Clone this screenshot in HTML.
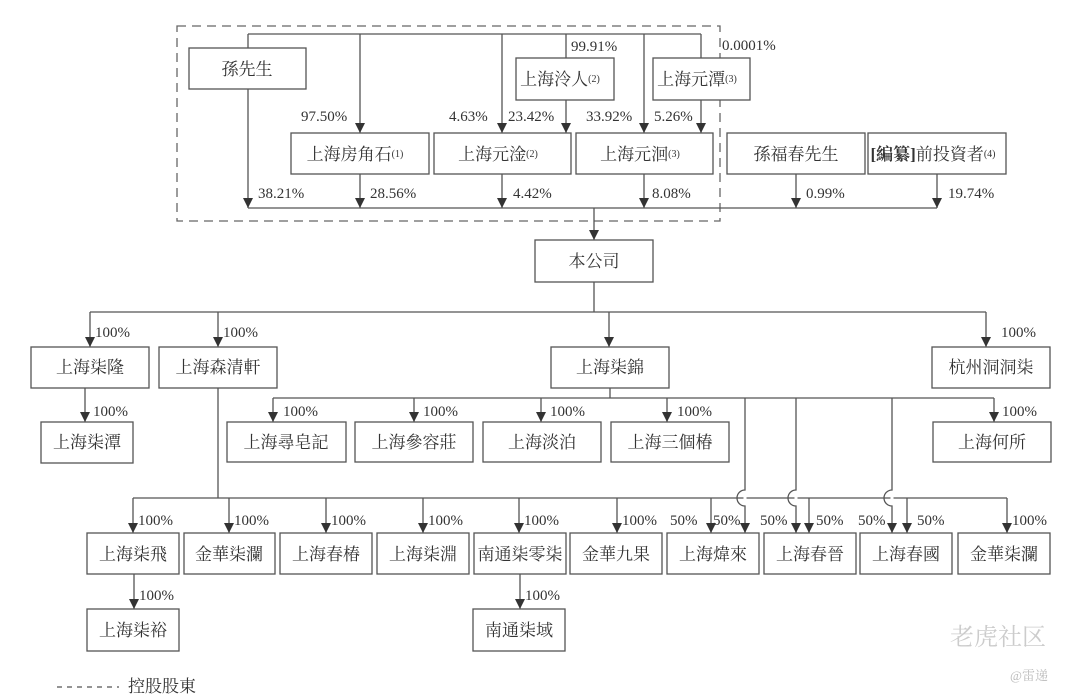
<!DOCTYPE html>
<html><head><meta charset="utf-8"><style>
html,body{margin:0;padding:0;background:#fff;}
svg{display:block;}
text{font-family:"Liberation Serif","Noto Serif CJK SC",serif;fill:#333;}
.b{font-size:17px;text-anchor:middle;}
.p{font-size:15px;}
rect{fill:#fff;stroke:#555;stroke-width:1.3;}
line,path.l{stroke:#555;stroke-width:1.3;fill:none;}
</style></head><body>
<svg width="1080" height="700" viewBox="0 0 1080 700" xmlns="http://www.w3.org/2000/svg">
<defs><marker id="a" markerWidth="10" markerHeight="10" refX="10" refY="5" orient="auto" markerUnits="userSpaceOnUse" viewBox="0 0 10 10"><path d="M0,0 L10,5 L0,10 z" fill="#333"/></marker></defs>
<rect x="177" y="26" width="543" height="195" style="fill:none;stroke:#666;stroke-dasharray:9,6;stroke-width:1.3"/>
<line x1="248" y1="34" x2="701" y2="34"/>
<line x1="248" y1="34" x2="248" y2="48"/>
<line x1="248" y1="89" x2="248" y2="208" marker-end="url(#a)"/>
<line x1="360" y1="34" x2="360" y2="133" marker-end="url(#a)"/>
<line x1="502" y1="34" x2="502" y2="133" marker-end="url(#a)"/>
<line x1="566" y1="34" x2="566" y2="58"/>
<line x1="566" y1="100" x2="566" y2="133" marker-end="url(#a)"/>
<line x1="644" y1="34" x2="644" y2="133" marker-end="url(#a)"/>
<line x1="701" y1="34" x2="701" y2="58"/>
<line x1="701" y1="100" x2="701" y2="133" marker-end="url(#a)"/>
<rect x="189" y="48" width="117" height="41"/><text class="b" x="247" y="75">孫先生</text>
<rect x="516" y="58" width="98" height="42"/><text class="b" x="560" y="85">上海泠人<tspan font-size="10" dy="-3">(2)</tspan></text>
<rect x="653" y="58" width="97" height="42"/><text class="b" x="697" y="85">上海元潭<tspan font-size="10" dy="-3">(3)</tspan></text>
<text class="p" x="571" y="51">99.91%</text>
<text class="p" x="722" y="50">0.0001%</text>
<text class="p" x="301" y="121">97.50%</text>
<text class="p" x="449" y="121">4.63%</text>
<text class="p" x="508" y="121">23.42%</text>
<text class="p" x="586" y="121">33.92%</text>
<text class="p" x="654" y="121">5.26%</text>
<rect x="291" y="133" width="138" height="41"/><text class="b" x="355" y="160">上海房角石<tspan font-size="10" dy="-3">(1)</tspan></text>
<rect x="434" y="133" width="137" height="41"/><text class="b" x="498" y="160">上海元淦<tspan font-size="10" dy="-3">(2)</tspan></text>
<rect x="576" y="133" width="137" height="41"/><text class="b" x="640" y="160">上海元洄<tspan font-size="10" dy="-3">(3)</tspan></text>
<rect x="727" y="133" width="138" height="41"/><text class="b" x="796" y="160">孫福春先生</text>
<rect x="868" y="133" width="138" height="41"/><text class="b" x="933" y="160"><tspan font-weight="bold">[編纂]</tspan>前投資者<tspan font-size="10" dy="-3">(4)</tspan></text>
<line x1="248" y1="208" x2="937" y2="208"/>
<line x1="360" y1="174" x2="360" y2="208" marker-end="url(#a)"/>
<line x1="502" y1="174" x2="502" y2="208" marker-end="url(#a)"/>
<line x1="644" y1="174" x2="644" y2="208" marker-end="url(#a)"/>
<line x1="796" y1="174" x2="796" y2="208" marker-end="url(#a)"/>
<line x1="937" y1="174" x2="937" y2="208" marker-end="url(#a)"/>
<text class="p" x="258" y="198">38.21%</text>
<text class="p" x="370" y="198">28.56%</text>
<text class="p" x="513" y="198">4.42%</text>
<text class="p" x="652" y="198">8.08%</text>
<text class="p" x="806" y="198">0.99%</text>
<text class="p" x="948" y="198">19.74%</text>
<line x1="594" y1="208" x2="594" y2="240" marker-end="url(#a)"/>
<rect x="535" y="240" width="118" height="42"/><text class="b" x="594" y="267">本公司</text>
<line x1="594" y1="282" x2="594" y2="312"/>
<line x1="90" y1="312" x2="986" y2="312"/>
<line x1="90" y1="312" x2="90" y2="347" marker-end="url(#a)"/>
<line x1="218" y1="312" x2="218" y2="347" marker-end="url(#a)"/>
<line x1="609" y1="312" x2="609" y2="347" marker-end="url(#a)"/>
<line x1="986" y1="312" x2="986" y2="347" marker-end="url(#a)"/>
<text class="p" x="95" y="337">100%</text>
<text class="p" x="223" y="337">100%</text>
<text class="p" x="1001" y="337">100%</text>
<rect x="31" y="347" width="118" height="41"/><text class="b" x="90" y="373">上海柒隆</text>
<rect x="159" y="347" width="118" height="41"/><text class="b" x="218" y="373">上海森清軒</text>
<rect x="551" y="347" width="118" height="41"/><text class="b" x="610" y="373">上海柒錦</text>
<rect x="932" y="347" width="118" height="41"/><text class="b" x="991" y="373">杭州洞洞柒</text>
<line x1="85" y1="388" x2="85" y2="422" marker-end="url(#a)"/>
<text class="p" x="93" y="416">100%</text>
<rect x="41" y="422" width="92" height="41"/><text class="b" x="87" y="448">上海柒潭</text>
<line x1="610" y1="388" x2="610" y2="398"/>
<line x1="273" y1="398" x2="994" y2="398"/>
<line x1="273" y1="398" x2="273" y2="422" marker-end="url(#a)"/>
<line x1="414" y1="398" x2="414" y2="422" marker-end="url(#a)"/>
<line x1="541" y1="398" x2="541" y2="422" marker-end="url(#a)"/>
<line x1="667" y1="398" x2="667" y2="422" marker-end="url(#a)"/>
<line x1="994" y1="398" x2="994" y2="422" marker-end="url(#a)"/>
<text class="p" x="283" y="416">100%</text>
<text class="p" x="423" y="416">100%</text>
<text class="p" x="550" y="416">100%</text>
<text class="p" x="677" y="416">100%</text>
<text class="p" x="1002" y="416">100%</text>
<rect x="227" y="422" width="119" height="40"/><text class="b" x="286" y="448">上海尋皂記</text>
<rect x="355" y="422" width="118" height="40"/><text class="b" x="414" y="448">上海參容莊</text>
<rect x="483" y="422" width="118" height="40"/><text class="b" x="542" y="448">上海淡泊</text>
<rect x="611" y="422" width="118" height="40"/><text class="b" x="670" y="448">上海三個椿</text>
<rect x="933" y="422" width="118" height="40"/><text class="b" x="992" y="448">上海何所</text>
<line x1="218" y1="388" x2="218" y2="498"/>
<line x1="133" y1="498" x2="1007" y2="498"/>
<path class="l" style="stroke:#fff;stroke-width:3" d="M745,492 V504 M796,492 V504 M892,492 V504"/>
<path class="l" d="M745,398 V490 a8,8 0 0 0 0,16 V533" marker-end="url(#a)"/>
<path class="l" d="M796,398 V490 a8,8 0 0 0 0,16 V533" marker-end="url(#a)"/>
<path class="l" d="M892,398 V490 a8,8 0 0 0 0,16 V533" marker-end="url(#a)"/>
<line x1="133" y1="498" x2="133" y2="533" marker-end="url(#a)"/>
<line x1="229" y1="498" x2="229" y2="533" marker-end="url(#a)"/>
<line x1="326" y1="498" x2="326" y2="533" marker-end="url(#a)"/>
<line x1="423" y1="498" x2="423" y2="533" marker-end="url(#a)"/>
<line x1="519" y1="498" x2="519" y2="533" marker-end="url(#a)"/>
<line x1="617" y1="498" x2="617" y2="533" marker-end="url(#a)"/>
<line x1="711" y1="498" x2="711" y2="533" marker-end="url(#a)"/>
<line x1="809" y1="498" x2="809" y2="533" marker-end="url(#a)"/>
<line x1="907" y1="498" x2="907" y2="533" marker-end="url(#a)"/>
<line x1="1007" y1="498" x2="1007" y2="533" marker-end="url(#a)"/>
<text class="p" x="138" y="525">100%</text>
<text class="p" x="234" y="525">100%</text>
<text class="p" x="331" y="525">100%</text>
<text class="p" x="428" y="525">100%</text>
<text class="p" x="524" y="525">100%</text>
<text class="p" x="622" y="525">100%</text>
<text class="p" x="670" y="525">50%</text>
<text class="p" x="713" y="525">50%</text>
<text class="p" x="760" y="525">50%</text>
<text class="p" x="816" y="525">50%</text>
<text class="p" x="858" y="525">50%</text>
<text class="p" x="917" y="525">50%</text>
<text class="p" x="1012" y="525">100%</text>
<rect x="87" y="533" width="92" height="41"/><text class="b" x="133" y="560">上海柒飛</text>
<rect x="184" y="533" width="91" height="41"/><text class="b" x="229" y="560">金華柒瀾</text>
<rect x="280" y="533" width="92" height="41"/><text class="b" x="326" y="560">上海春椿</text>
<rect x="377" y="533" width="92" height="41"/><text class="b" x="423" y="560">上海柒淵</text>
<rect x="474" y="533" width="92" height="41"/><text class="b" x="520" y="560">南通柒零柒</text>
<rect x="570" y="533" width="92" height="41"/><text class="b" x="616" y="560">金華九果</text>
<rect x="667" y="533" width="92" height="41"/><text class="b" x="713" y="560">上海煒來</text>
<rect x="764" y="533" width="92" height="41"/><text class="b" x="810" y="560">上海春晉</text>
<rect x="860" y="533" width="92" height="41"/><text class="b" x="906" y="560">上海春國</text>
<rect x="958" y="533" width="92" height="41"/><text class="b" x="1004" y="560">金華柒瀾</text>
<line x1="134" y1="574" x2="134" y2="609" marker-end="url(#a)"/>
<line x1="520" y1="574" x2="520" y2="609" marker-end="url(#a)"/>
<text class="p" x="139" y="600">100%</text>
<text class="p" x="525" y="600">100%</text>
<rect x="87" y="609" width="92" height="42"/><text class="b" x="133" y="636">上海柒裕</text>
<rect x="473" y="609" width="92" height="42"/><text class="b" x="519" y="636">南通柒域</text>
<line x1="57" y1="687" x2="119" y2="687" style="stroke-dasharray:5,5"/>
<text x="128" y="692" font-size="17">控股股東</text>
<text x="950" y="645" font-size="24" style="fill:#ccc" font-family="Liberation Sans,Noto Sans CJK SC,sans-serif">老虎社区</text>
<text x="1010" y="680" font-size="13" style="fill:#bbb">@雷递</text>
</svg>
</body></html>
